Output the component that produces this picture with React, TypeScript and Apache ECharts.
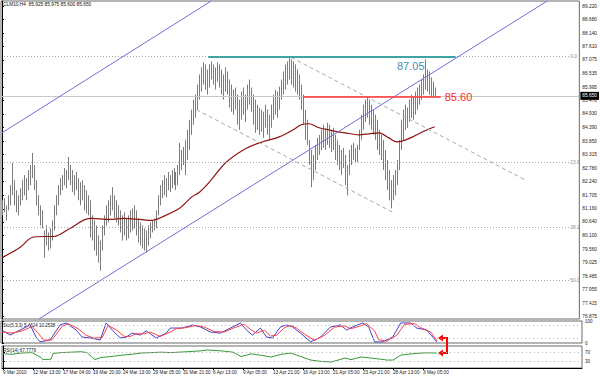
import React, { useEffect, useRef } from "react";
import * as echarts from "echarts";

const symbolTitle = "CLM10,H4  85.925 85.975 85.600 85.650";
const stochTitle = "Sto(5,3,3) 5.4624 10.2538";
const rsiTitle = "RSI(14) 67.7779";

const timeLabels = ["9 Mar 2010", "12 Mar 13:00", "17 Mar 04:00", "19 Mar 20:00", "24 Mar 13:00", "29 Mar 05:00", "31 Mar 21:00", "6 Apr 13:00", "9 Apr 05:00", "13 Apr 21:00", "16 Apr 13:00", "21 Apr 05:00", "23 Apr 21:00", "28 Apr 13:00", "3 May 05:00"];
const barsPerLabel = 15;
const slotCount = 290;

const priceTicks = ["89.220", "88.680", "88.140", "87.610", "87.075", "86.535", "85.995", "85.470", "84.930", "84.390", "83.850", "83.315", "82.780", "82.240", "81.705", "81.160", "80.640", "80.100", "79.560", "79.025", "78.485", "77.955", "77.415", "76.875"];
const priceMin = 76.78;
const priceMax = 89.42;
const bidPrice = 85.65;
const bidLabel = "85.650";

// [high, low] of each H4 bar
const bars: [number, number][] = [
  [81.50, 80.90], [81.58, 81.02], [81.30, 80.70], [81.70, 81.10], [82.10, 81.30], [82.98, 81.70], [82.30, 81.30], [81.90, 81.02], [81.70, 80.90], [81.98, 81.30],
  [82.30, 81.50], [82.50, 81.70], [82.38, 81.50], [82.70, 81.90], [82.90, 82.10], [83.38, 82.38], [82.90, 81.90], [82.30, 81.30], [81.70, 80.90], [81.30, 80.50],
  [81.10, 80.38], [80.30, 79.22], [80.50, 79.70], [80.22, 79.50], [80.38, 79.58], [80.70, 79.90], [81.30, 80.30], [81.70, 80.90], [82.10, 81.30], [82.38, 81.70],
  [82.50, 81.90], [82.78, 82.10], [82.70, 81.98], [83.22, 82.30], [82.90, 82.10], [82.70, 81.82], [82.50, 81.70], [82.62, 81.90], [82.38, 81.50], [82.22, 81.30],
  [82.30, 81.50], [82.10, 81.10], [81.90, 80.98], [81.70, 80.90], [81.50, 80.02], [80.90, 79.90], [80.70, 79.50], [80.50, 79.30], [80.10, 79.02], [79.90, 78.70],
  [80.50, 79.50], [80.90, 80.10], [81.30, 80.50], [81.50, 80.62], [81.70, 80.90], [82.02, 81.10], [81.70, 80.78], [81.50, 80.62], [81.30, 80.50], [81.10, 80.22],
  [80.90, 79.90], [81.02, 80.10], [80.78, 79.90], [80.90, 79.98], [81.10, 80.22], [81.18, 80.30], [81.30, 80.38], [81.10, 80.10], [80.78, 79.82], [80.62, 79.70],
  [80.50, 79.58], [80.38, 79.50], [80.30, 79.42], [80.50, 79.70], [80.62, 79.98], [80.70, 80.22], [80.78, 80.30], [81.10, 80.38], [81.70, 80.90], [82.10, 81.30],
  [82.30, 81.58], [82.50, 81.70], [82.38, 81.62], [82.62, 81.90], [82.50, 81.82], [82.70, 81.98], [82.78, 82.10], [82.62, 81.90], [82.90, 82.10], [83.78, 82.50],
  [83.50, 82.70], [83.62, 82.90], [83.90, 82.50], [84.30, 83.10], [84.70, 83.50], [85.10, 84.10], [85.50, 84.50], [85.70, 84.78], [86.10, 85.10], [86.50, 85.50],
  [86.78, 85.82], [86.98, 86.10], [86.90, 85.90], [86.70, 85.70], [86.90, 85.98], [87.02, 86.30], [86.90, 86.10], [86.78, 85.90], [86.98, 86.22], [86.90, 85.98],
  [86.70, 85.70], [86.50, 85.50], [86.78, 85.82], [86.62, 85.70], [86.30, 85.18], [86.10, 85.02], [85.90, 84.90], [85.98, 85.10], [85.70, 84.50], [85.50, 84.30],
  [85.82, 84.70], [85.98, 84.90], [85.70, 84.62], [86.10, 85.10], [86.30, 85.30], [85.98, 85.02], [85.70, 84.50], [85.50, 84.18], [85.30, 84.30], [85.18, 84.10],
  [85.10, 84.22], [85.02, 83.98], [85.30, 84.38], [85.10, 84.10], [84.90, 83.90], [85.30, 84.38], [85.70, 84.70], [85.90, 84.90], [85.82, 84.78], [86.02, 85.10],
  [86.30, 85.50], [86.62, 85.70], [86.90, 85.90], [87.02, 86.10], [87.22, 86.30], [87.10, 86.10], [87.02, 85.98], [86.90, 85.82], [86.70, 85.70], [86.50, 85.50],
  [86.10, 85.10], [85.70, 84.50], [85.10, 83.90], [84.70, 83.70], [83.90, 82.90], [83.50, 82.02], [83.30, 82.30], [83.70, 82.70], [83.98, 83.10], [84.10, 83.30],
  [84.30, 83.50], [84.50, 83.58], [84.38, 83.50], [84.58, 83.70], [84.50, 83.58], [84.30, 83.42], [84.38, 83.50], [84.10, 83.10], [83.90, 82.90], [83.70, 82.70],
  [83.50, 82.50], [83.58, 82.78], [83.30, 82.10], [82.90, 81.70], [83.50, 82.50], [83.70, 82.90], [83.78, 83.10], [83.58, 82.98], [83.70, 83.02], [84.30, 83.50],
  [84.90, 83.90], [85.30, 84.30], [85.50, 84.62], [85.62, 84.78], [85.50, 84.50], [85.30, 84.30], [85.10, 84.10], [84.90, 83.90], [84.70, 83.50], [84.30, 83.30],
  [84.10, 83.10], [83.90, 82.70], [83.50, 82.30], [83.10, 81.90], [82.70, 81.50], [82.30, 81.18], [82.50, 81.50], [82.70, 81.70], [83.10, 82.10], [83.90, 82.70],
  [84.70, 83.50], [85.10, 83.90], [85.30, 84.30], [85.18, 84.38], [85.50, 84.62], [85.70, 84.78], [85.58, 84.70], [85.82, 84.90], [85.98, 85.10], [86.10, 85.30],
  [86.30, 85.50], [86.50, 85.70], [87.10, 85.90], [86.70, 85.82], [86.62, 85.70], [86.38, 85.58], [86.22, 85.62], [85.98, 85.60]
];

// moving average read at bar indices
const maPoints: [number, number][] = [
  [0, 79.22], [9, 79.62], [15, 80.02], [21, 80.06], [26, 80.06], [34, 80.38], [44, 80.78], [54, 80.74], [61, 80.78], [69, 80.74],
  [75, 80.70], [81, 80.86], [89, 81.18], [95, 81.62], [99, 81.82], [104, 82.22], [112, 82.98], [121, 83.50], [129, 83.78], [139, 84.02],
  [146, 84.30], [150, 84.50], [154, 84.54], [159, 84.38], [166, 84.26], [172, 84.18], [179, 84.10], [184, 84.14], [189, 84.18], [194, 83.98],
  [198, 83.82], [201, 83.86], [206, 84.02], [211, 84.22], [217, 84.42]
];

const stochMain: [number, number][] = [
  [0, 59], [4, 36], [9, 59], [14, 82], [17, 27], [19, 5], [24, 14], [29, 82], [32, 91], [37, 59], [40, 27], [44, 23], [49, 14], [52, 91], [55, 59],
  [59, 23], [62, 27], [65, 45], [69, 36], [72, 55], [77, 23], [82, 45], [84, 68], [90, 68], [95, 82], [99, 73], [104, 50], [109, 45], [114, 68],
  [119, 91], [122, 59], [125, 36], [129, 68], [132, 27], [135, 23], [139, 73], [142, 82], [145, 73], [149, 45], [154, 5], [159, 27], [164, 73],
  [169, 82], [172, 59], [175, 73], [180, 91], [183, 73], [186, 5], [190, 5], [195, 27], [199, 91], [204, 91], [207, 68], [212, 59], [217, 5.46]
];
const stochSignal: [number, number][] = [
  [0, 50], [5, 45], [10, 55], [15, 75], [18, 45], [21, 12], [25, 15], [30, 75], [33, 88], [38, 65], [42, 35], [46, 22], [50, 25], [53, 80], [57, 60],
  [61, 30], [64, 30], [67, 42], [71, 42], [74, 50], [79, 30], [84, 50], [87, 65], [92, 70], [97, 80], [101, 72], [106, 52], [111, 50], [116, 70],
  [121, 85], [124, 62], [127, 45], [131, 58], [134, 32], [137, 35], [141, 70], [144, 80], [147, 68], [151, 40], [156, 12], [161, 35], [166, 72],
  [171, 78], [174, 65], [177, 72], [182, 88], [186, 55], [188, 15], [192, 8], [197, 35], [201, 85], [206, 88], [209, 70], [214, 50], [217, 10.25]
];
const rsiValues: [number, number][] = [
  [0, 66], [4, 62], [9, 68], [14, 70], [15, 68], [19, 47], [20, 38], [24, 40], [25, 66], [29, 70], [34, 72], [39, 74], [42, 70], [45, 45], [46, 38],
  [49, 48], [54, 52], [59, 58], [64, 62], [69, 68], [74, 70], [79, 72], [84, 70], [92, 74], [99, 78], [102, 82], [109, 78], [115, 72], [117, 62],
  [119, 52], [124, 64], [129, 58], [134, 50], [139, 62], [144, 68], [149, 52], [151, 45], [154, 36], [159, 30], [164, 27], [166, 32], [171, 45],
  [174, 38], [179, 50], [184, 45], [189, 40], [192, 36], [195, 36], [199, 59], [204, 64], [209, 68], [214, 69], [217, 67.78]
];

const stochLevels = [0, 20, 80, 100];
const rsiLevels = [30, 70];

const fibNames = ["0.0", "23.6", "38.2", "50.0"];
const fibPrices = [87.22, 83.02, 80.42, 78.32];

// drawn objects: [startIndex, startPrice, endIndex, endPrice]
const channelLines: [number, number, number, number][] = [[0, 84.18, 104.9, 89.42], [18.5, 76.78, 273.4, 89.42]];
const dashedLines: [number, number, number, number][] = [[145, 87.18, 262.5, 82.3], [97.5, 85.1, 196, 81.02]];
const resistance = { from: 103.5, to: 227.5, price: 87.2, label: "87.05" };
const support = { from: 151, to: 220, price: 85.6, label: "85.60" };

const FONT = "'Liberation Sans', Arial, sans-serif";

export default function App() {
  const ref = useRef<HTMLDivElement>(null);
  useEffect(() => {
    document.body.style.margin = "0";
    const chart = echarts.init(ref.current!, undefined, { renderer: "svg" });
    const xCommon = { type: "value", min: -0.5, max: slotCount - 0.5 } as any;
    const labelIdx = timeLabels.map((_, k) => k * barsPerLabel);

    const lineItem = (a: number, b: number, c: number, d: number, lineStyle: any, label?: any) => [
      { coord: [a, b], lineStyle, label: label || { show: false } },
      { coord: [c, d] },
    ];

    const markData: any[] = [];
    fibPrices.forEach((p, k) => {
      markData.push(lineItem(-0.5, p, 284.5, p, { color: "#a8a8a8", width: 1, type: [1, 2] }, {
        show: true, position: "end", formatter: fibNames[k], fontSize: 4.8, color: "#8a8a8a", distance: 1, fontFamily: FONT,
      }));
    });
    markData.push(lineItem(-0.5, bidPrice, slotCount - 0.5, bidPrice, { color: "#c8c8c8", width: 1, type: "solid" }, {
      show: true, position: "end", formatter: bidLabel, fontSize: 4.8, color: "#fff", backgroundColor: "#000",
      padding: [2, 2, 1, 2], distance: 1, fontFamily: FONT,
    }));
    channelLines.forEach(([a, b, c, d]) => markData.push(lineItem(a, b, c, d, { color: "#6f6fd8", width: 1, type: "solid" })));
    dashedLines.forEach(([a, b, c, d]) => markData.push(lineItem(a, b, c, d, { color: "#a8a8a8", width: 1, type: [4, 3] })));
    markData.push(lineItem(resistance.from, resistance.price, resistance.to, resistance.price, { color: "#3fa3a3", width: 2, type: "solid" }));
    markData.push(lineItem(support.from, support.price, support.to, support.price, { color: "#ff3535", width: 1.5, type: "solid" }, {
      show: true, position: "end", formatter: support.label, fontSize: 11, color: "#ff2a2a", distance: 4, fontFamily: FONT,
    }));

    const option: any = {
      animation: false,
      backgroundColor: "#fff",
      textStyle: { fontFamily: FONT },
      grid: [
        { left: 1, top: 1, width: 581, height: 318, show: true, borderColor: "#6a6a6a", borderWidth: 1, backgroundColor: "transparent" },
        { left: 1, top: 321, width: 581, height: 22, show: true, borderColor: "#6a6a6a", borderWidth: 1, backgroundColor: "transparent" },
        { left: 1, top: 346, width: 581, height: 22, show: true, borderColor: "#6a6a6a", borderWidth: 1, backgroundColor: "transparent" },
      ],
      xAxis: [
        { ...xCommon, gridIndex: 0, show: false },
        { ...xCommon, gridIndex: 1, show: false },
        {
          ...xCommon, gridIndex: 2, position: "bottom",
          axisLine: { show: true, lineStyle: { color: "#000" } },
          axisTick: { show: true, length: 2, customValues: labelIdx, lineStyle: { color: "#000" } },
          axisLabel: {
            customValues: labelIdx, fontSize: 4.7, color: "#222", align: "left", margin: 2,
            formatter: (v: number) => timeLabels[Math.round(v / barsPerLabel)] ?? "",
          },
          splitLine: { show: false },
        },
      ],
      yAxis: [
        {
          type: "value", gridIndex: 0, position: "right", min: priceMin, max: priceMax,
          axisLine: { show: true, lineStyle: { color: "#000" } },
          axisTick: { show: true, length: 2, customValues: priceTicks.map(Number), lineStyle: { color: "#000" } },
          axisLabel: { customValues: priceTicks.map(Number), fontSize: 4.8, color: "#222", margin: 3, formatter: (v: number) => v.toFixed(3) },
          splitLine: { show: false },
        },
        {
          type: "value", gridIndex: 1, position: "right", min: 0, max: 100,
          axisLine: { show: true, lineStyle: { color: "#000" } },
          axisTick: { show: true, length: 2, customValues: stochLevels },
          axisLabel: { customValues: stochLevels, showMinLabel: true, showMaxLabel: true, hideOverlap: false, fontSize: 4.5, color: "#222", margin: 3 },
          splitLine: { show: false },
        },
        {
          type: "value", gridIndex: 2, position: "right", min: 0, max: 100,
          axisLine: { show: true, lineStyle: { color: "#000" } },
          axisTick: { show: true, length: 2, customValues: rsiLevels },
          axisLabel: { customValues: rsiLevels, fontSize: 4.5, color: "#222", margin: 3 },
          splitLine: { show: false },
        },
      ],
      series: [
        {
          type: "custom", xAxisIndex: 0, yAxisIndex: 0, clip: true,
          data: bars.map((b, i) => [i, b[0], b[1]]),
          encode: { x: 0, y: [1, 2] },
          renderItem: (_p: any, api: any) => {
            const top = api.coord([api.value(0), api.value(1)]);
            const bot = api.coord([api.value(0), api.value(2)]);
            const x = Math.round(top[0]) + 0.5;
            return { type: "line", shape: { x1: x, y1: top[1], x2: x, y2: bot[1] }, style: { stroke: "#7c7c7c", lineWidth: 1 } };
          },
          z: 2,
        },
        {
          type: "line", xAxisIndex: 0, yAxisIndex: 0, data: maPoints, smooth: 0.3, showSymbol: false,
          lineStyle: { color: "#8e1414", width: 1.2 }, z: 3,
          markLine: { silent: true, symbol: ["none", "none"], animation: false, label: { show: false }, data: markData },
        },
        {
          type: "line", xAxisIndex: 1, yAxisIndex: 1, data: stochMain, showSymbol: false,
          lineStyle: { color: "#4040d0", width: 1 },
          markLine: {
            silent: true, symbol: ["none", "none"], label: { show: false },
            lineStyle: { color: "#b8b8b8", type: [1, 3], width: 1 },
            data: [{ yAxis: 20 }, { yAxis: 80 }],
          },
        },
        { type: "line", xAxisIndex: 1, yAxisIndex: 1, data: stochSignal, showSymbol: false, lineStyle: { color: "#ff4040", width: 1 } },
        {
          type: "line", xAxisIndex: 2, yAxisIndex: 2, data: rsiValues, showSymbol: false,
          lineStyle: { color: "#3a9a3a", width: 1 },
          markLine: {
            silent: true, symbol: ["none", "none"], label: { show: false },
            lineStyle: { color: "#b8b8b8", type: [1, 3], width: 1 },
            data: [{ yAxis: 30 }, { yAxis: 70 }],
          },
        },
      ],
      graphic: [
        { type: "text", left: 3, top: 2, style: { text: symbolTitle, fontSize: 4.8, fill: "#111", fontFamily: FONT } },
        { type: "text", left: 3, top: 323, style: { text: stochTitle, fontSize: 4.5, fill: "#111", fontFamily: FONT } },
        { type: "text", left: 3, top: 348, style: { text: rsiTitle, fontSize: 4.5, fill: "#111", fontFamily: FONT } },
        { type: "text", x: 397, y: 66, style: { text: resistance.label, fontSize: 11, fill: "#4a8cb0", fontFamily: FONT, verticalAlign: "middle" } },
        { type: "polyline", shape: { points: [[442, 338], [447, 338], [447, 353], [442, 353]] }, style: { stroke: "#ff0000", lineWidth: 2, fill: null } },
        { type: "polygon", shape: { points: [[438, 338], [443, 334.5], [443, 341.5]] }, style: { fill: "#ff0000" } },
        { type: "polygon", shape: { points: [[438, 353], [443, 349.5], [443, 356.5]] }, style: { fill: "#ff0000" } },
      ],
    };
    chart.setOption(option);
    return () => chart.dispose();
  }, []);
  return <div ref={ref} style={{ width: 600, height: 376 }} />;
}
